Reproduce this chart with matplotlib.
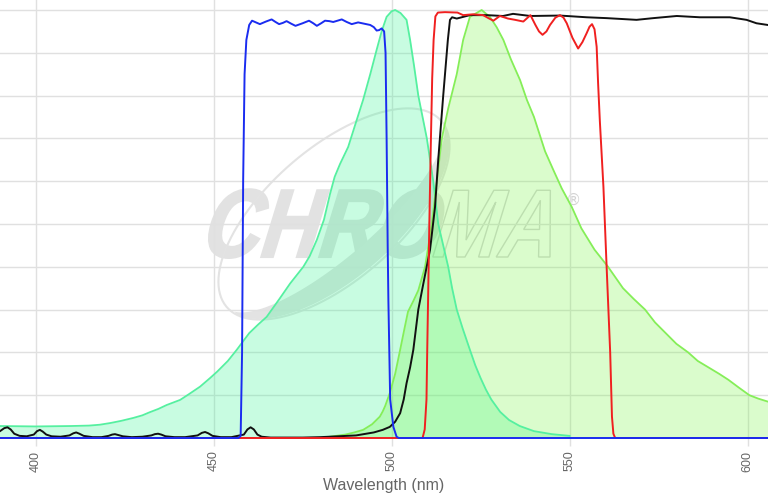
import numpy as np
import matplotlib.pyplot as plt
from matplotlib.patches import PathPatch, Polygon
from matplotlib.textpath import TextPath
from matplotlib.font_manager import FontProperties
from matplotlib.transforms import Affine2D

# -----------------------------
# DATI
# -----------------------------
# spettro di eccitazione (area verde acqua)
ex_wl = [386, 390, 400, 410, 415, 418, 421, 424, 427.5, 430, 432, 434.5, 436.8,
         440.6, 443, 446.2, 449, 451, 454, 456.5, 460, 462.5, 464.9, 468.5,
         471.5, 475.2, 477, 479, 481, 482.7, 484, 485.5, 487.8, 490.2, 492, 494,
         495.8, 497.2, 498.6, 500, 501, 502.5, 504.2, 505.2, 506.3, 507.5,
         508.7, 509.9, 511.7, 513.1, 514.5, 515.9, 517, 518.3, 520, 522, 523.5,
         525, 526.5, 528, 530.5, 533, 536, 540, 545, 550]
ex_val = [2.8, 2.8, 2.7, 2.8, 2.9, 3.1, 3.5, 4.0, 4.7, 5.3, 6.0, 6.8, 7.7,
          8.9, 10.2, 12, 14, 15.5, 18, 20.6, 24.5, 26.5, 28.3, 32.5,
          36.1, 40, 42.5, 46.3, 51, 57, 61, 64, 68, 74.3, 79, 85,
          90.7, 95, 98.4, 99.7, 100, 99.3, 97.7, 93, 87, 80,
          75, 70, 60, 50, 45, 40, 35, 30, 25.5, 20.6, 17,
          14, 11.3, 9, 6.1, 4.2, 2.8, 1.6, 0.9, 0.5]

# spettro di emissione (area verde chiaro)
em_wl = [482.7, 487, 489.5, 492, 494.5, 496.7, 497.5, 498.2, 499.5, 501, 502.4,
         503.6, 504.6, 506.1, 507.5, 509.4, 511.3, 512.7, 514.1, 515.9, 518.3,
         520.1, 522, 525.3, 527.6, 529.5, 531.4, 533.5, 536.1, 538, 540, 543.1,
         545.5, 547.8, 550.6, 553.3, 557, 560.8, 565, 568, 571.2, 574, 577,
         580, 583.3, 586, 589, 592, 594.6, 597.5, 600.5, 603, 605.7, 610]
em_val = [0.3, 0.8, 1.3, 1.9, 3.2, 5, 6.2, 7.5, 10.5, 15, 20.6,
          25.5, 29.5, 32, 34.5, 40, 50, 60, 70, 77, 85,
          93, 98.4, 100, 98.4, 96, 93, 88.5, 83.6, 79, 75, 67,
          62.5, 58.3, 54, 49, 44, 40, 35, 32.5, 30, 27, 24.5,
          22, 20, 18, 16.5, 15, 13.6, 11.8, 10, 9.2, 8.5, 7.8]

# filtro di eccitazione (blu)
bp_wl = [386, 457, 457.6, 458.0, 458.3, 458.7, 459.2, 460, 460.8, 461.9, 463,
         464.7, 466.3, 467.4, 468.4, 469.5, 470.5, 471.8, 473, 475, 476.8,
         478, 479, 480.2, 481.3, 482.5, 483.6, 484.8, 486, 487.4, 488.8, 489.7,
         490.6, 492.3, 494, 495, 495.8, 496.5, 497.2, 497.9, 498.3, 498.6,
         498.9, 499.1, 499.6, 500.5, 501.4, 502, 610]
bp_val = [0, 0, 0.5, 20, 60, 85, 93, 96.5, 97.5, 97.1, 96.7,
          97.3, 97.8, 97.2, 96.7, 97.0, 97.4, 96.8, 96.3, 96.9, 97.5,
          96.9, 96.3, 96.9, 97.5, 97.4, 97.2, 97.5, 97.8, 97.2, 96.7, 96.9,
          97.1, 96.8, 96.5, 96.0, 95.2, 95.3, 95.7, 95, 90, 70,
          45, 32, 9, 2.6, 0.3, 0, 0]

# filtro di emissione (rosso)
em_f_wl = [386, 508.7, 509.3, 509.8, 510.0, 510.2, 510.6, 511.0, 511.4, 511.8,
           512.3, 513, 515, 518.5, 520.1, 522.9, 525.7, 527.2, 528.6, 530.4,
           532.7, 534.7, 537, 539, 540.4, 541.4, 542.4, 543.5, 544.5, 546,
           547.3, 548.3, 549.2, 550.8, 552.4, 553.6, 554.8, 555.6, 556.3,
           557.0, 557.6, 558.0, 558.5, 559.5, 560.4, 561.4, 561.9, 562.3,
           562.8, 610]
em_f_val = [0, 0, 2, 9, 20, 30, 50, 68, 84, 93,
            98.5, 99.4, 99.5, 99.4, 98.8, 99, 98.8, 98.1, 97.5, 98.6,
            98, 97.7, 97.3, 98.8, 96.5, 95, 94.2, 95, 96.5, 98.2,
            98.8, 98.2, 96.9, 93.5, 91, 92.5, 94.6, 96.1, 96.7,
            95.5, 91.4, 83, 74, 58.7, 40, 20, 5, 1,
            0, 0]

# specchio dicroico (nero)
dc_wl = [386, 388, 390, 391.2, 392.1, 393, 394, 395.5, 397.5, 399.5, 400.4,
         401.2, 402, 403, 404.5, 407, 409.5, 410.6, 411.4, 412.3, 413.5, 416,
         418.5, 420.5, 421.5, 422.3, 423.2, 424.5, 427, 430, 432.5, 433.5,
         434.4, 435.3, 436.5, 439, 442, 445.5, 446.7, 447.6, 448.5, 449.7,
         452, 455, 458.5, 459.5, 460.4, 461.3, 462.3, 463.5, 466, 470, 475,
         480, 485, 490, 495, 497.5, 499.5, 501, 502.4, 503.4, 504.2, 505.2,
         506.1, 507.5, 508.9, 510.8, 512.2, 513.1, 514.5, 515.8, 516.4, 517,
         518.3, 522, 526.7, 531.3, 534.1, 539, 547.3, 554.8, 560.4, 568.8,
         573.5, 580.1, 586.6, 595, 599.7, 602.5, 605.7, 610]
dc_val = [0.6, 0.7, 1.6, 2.3, 2.5, 2.0, 1.0, 0.5, 0.4, 0.8, 1.6,
          1.9, 1.5, 0.8, 0.4, 0.3, 0.6, 1.1, 1.3, 1.0, 0.5, 0.2,
          0.2, 0.5, 0.8, 0.9, 0.7, 0.4, 0.2, 0.3, 0.6, 0.9,
          1.0, 0.8, 0.4, 0.2, 0.2, 0.6, 1.2, 1.4, 1.1, 0.5,
          0.2, 0.2, 0.8, 2.0, 2.5, 2.0, 0.8, 0.3, 0.1, 0.1, 0.1,
          0.2, 0.4, 0.6, 1.3, 1.9, 2.6, 3.8, 5.8, 9, 12.8, 16.5,
          20.6, 30, 36, 44, 54, 65, 80, 93, 97.7, 98.3,
          98, 98.8, 98.8, 98.6, 99.1, 98.6, 98.7, 98.3, 98.1, 97.7,
          98.1, 98.6, 98.3, 98.3, 97.7, 96.9, 96.5, 96]

xticks = [400, 450, 500, 550, 600]

# -----------------------------
# FIGURA
# -----------------------------
fig = plt.figure(figsize=(7.68, 5.0), dpi=100)
fig.patch.set_facecolor("white")

# logo in filigrana (coordinate in pixel, y dall'alto)
wm = fig.add_axes([0, 0, 1, 1], zorder=0)
wm.set_xlim(0, 768)
wm.set_ylim(500, 0)
wm.axis("off")

fp = FontProperties(family="Liberation Sans", weight="bold")
p1 = TextPath((0, 0), "CHRO", size=97, prop=fp)
w1 = p1.get_extents().x1
p2 = TextPath((w1 - 4, 0), "MA", size=97, prop=fp)
sx = 352 / p2.get_extents().x1
tr = Affine2D().scale(sx, -1).skew_deg(-17, 0).translate(198, 257)
wm.add_patch(PathPatch(tr.transform_path(p1), fc="#e2e2e2", ec="#e2e2e2", lw=1.5))
wm.add_patch(PathPatch(tr.transform_path(p2), fc="none", ec="#d6d6d6", lw=1))

# ellisse del logo
cx, cy, a, ang = 334, 214, 142, np.radians(41)
u = np.array([np.cos(ang), -np.sin(ang)])
v = np.array([np.sin(ang), np.cos(ang)])


def ell(b, t):
    x = cx + a * np.cos(t) * u[0] + b * np.sin(t) * v[0]
    y = cy + a * np.cos(t) * u[1] + b * np.sin(t) * v[1]
    return np.c_[x, y]


t_low = np.linspace(0.05, np.pi - 0.2, 120)
outer = ell(64, t_low)
inner = ell(42, t_low[::-1])
wm.add_patch(Polygon(np.vstack([outer, inner]), closed=True, fc="#e3e3e3", ec="none"))
ring = ell(66, np.linspace(0, 2 * np.pi, 240))
wm.plot(ring[:, 0], ring[:, 1], color="#e3e3e3", lw=1.5)
wm.text(573, 200, "®", fontsize=11, color="#d4d4d4", ha="center", va="center")

ax = fig.add_axes([0, 62 / 500, 1, 438 / 500], zorder=1)
ax.patch.set_alpha(0)

ax.fill_between(ex_wl, ex_val, color=(60 / 255, 245 / 255, 150 / 255),
                alpha=0.28, lw=0)
ax.fill_between(em_wl, em_val, color=(120 / 255, 245 / 255, 70 / 255),
                alpha=0.27, lw=0)
ax.plot(ex_wl, ex_val, color="#55f0a0", lw=1.3)
ax.plot(em_wl, em_val, color="#85ee58", lw=1.3)

ax.plot(dc_wl, dc_val, color="#111111", lw=1.4, clip_on=False)
ax.plot(em_f_wl, em_f_val, color="#f02020", lw=1.4, clip_on=False)
ax.plot(bp_wl, bp_val, color="#1a2cf0", lw=1.4, clip_on=False)

ax.set_xlim(390, 390 + 768 / 3.56)
ax.set_ylim(0, 100 * 438 / 428)
ax.set_xticks(xticks)
ax.set_yticks(np.arange(0, 101, 10))
ax.set_yticklabels([])
ax.grid(True, color="#e0e0e0", lw=1)
ax.set_axisbelow(True)
for s in ax.spines.values():
    s.set_visible(False)

ax.tick_params(axis="x", length=6, width=1, color="#e0e0e0", labelcolor="#666666",
               labelsize=9, labelrotation=90, pad=3)
ax.tick_params(axis="y", length=0)
for lab in ax.get_xticklabels():
    lab.set_fontfamily("Liberation Sans")

ax.set_xlabel("Wavelength (nm)", fontsize=11.5, color="#666666",
              family="Liberation Sans", labelpad=5)

plt.savefig("out.png", dpi=100)
